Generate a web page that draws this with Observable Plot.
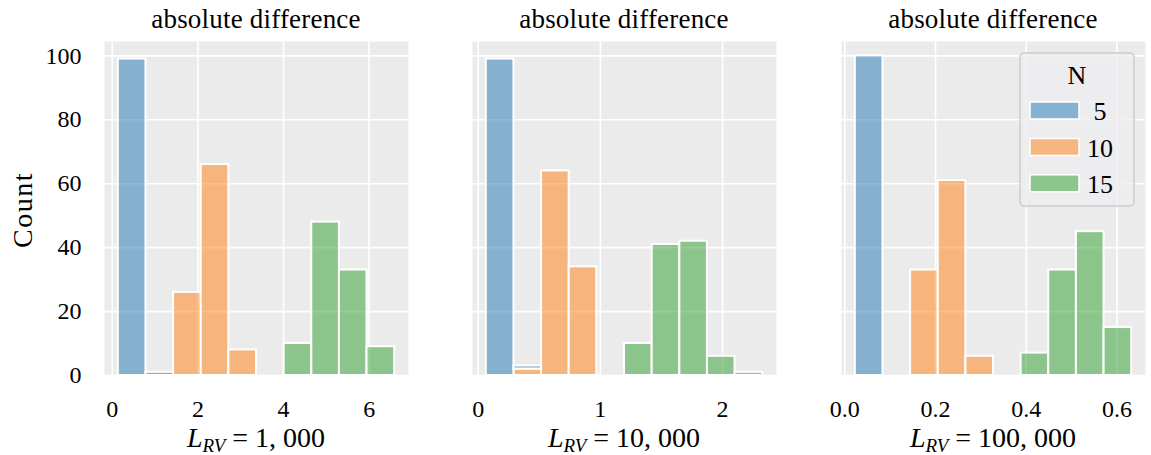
<!DOCTYPE html>
<html><head><meta charset="utf-8">
<script src="https://cdn.jsdelivr.net/npm/d3@7"></script>
<script src="https://cdn.jsdelivr.net/npm/@observablehq/plot@0.6"></script>
<style>
html,body{margin:0;padding:0;background:#fff;}
#wrap{position:relative;width:1151px;height:455px;overflow:hidden;background:#fff;}
#wrap svg{position:absolute;top:0;overflow:visible;}
</style></head><body><div id="wrap"></div>
<script>
// ---- data ----
const hues = ["5", "10", "15"];
const hueColors = ["#1f77b4", "#ff7f0e", "#2ca02c"];
const yTicks = [0, 20, 40, 60, 80, 100];

// panel 1 : L_RV = 1,000
const edges1 = [0.14, 0.786, 1.431, 2.077, 2.723, 3.369, 4.014, 4.66, 5.306, 5.951, 6.597];
const p1N5  = [99, 1, 0, 0, 0, 0, 0, 0, 0, 0];
const p1N10 = [0, 0, 26, 66, 8, 0, 0, 0, 0, 0];
const p1N15 = [0, 0, 0, 0, 0, 0, 10, 48, 33, 9];
const xTicks1 = [0, 2, 4, 6];

// panel 2 : L_RV = 10,000
const edges2 = [0.067, 0.293, 0.519, 0.745, 0.971, 1.198, 1.424, 1.650, 1.876, 2.102, 2.328];
const p2N5  = [99, 1, 0, 0, 0, 0, 0, 0, 0, 0];
const p2N10 = [0, 2, 64, 34, 0, 0, 0, 0, 0, 0];
const p2N15 = [0, 0, 0, 0, 0, 10, 41, 42, 6, 1];
const xTicks2 = [0, 1, 2];

// panel 3 : L_RV = 100,000
const edges3 = [0.0233, 0.0842, 0.1451, 0.2060, 0.2669, 0.3278, 0.3887, 0.4496, 0.5105, 0.5714, 0.6323];
const p3N5  = [100, 0, 0, 0, 0, 0, 0, 0, 0, 0];
const p3N10 = [0, 0, 33, 61, 6, 0, 0, 0, 0, 0];
const p3N15 = [0, 0, 0, 0, 0, 0, 7, 33, 45, 15];
const xTicks3 = [0, 0.2, 0.4, 0.6];

const panelTitle = "absolute difference";
const xLabelValues = ["1, 000", "10, 000", "100, 000"];
const yLabel = "Count";
const legendTitle = "N";

// ---- layout ----
const FONT = "'Liberation Serif', 'Times New Roman', serif";
const panels = [
  {edges: edges1, counts: [p1N5, p1N10, p1N15], ticks: xTicks1, fmt: d3.format("d"), left: 0, ml: 104, w: 428, showY: true},
  {edges: edges2, counts: [p2N5, p2N10, p2N15], ticks: xTicks2, fmt: d3.format("d"), left: 428, ml: 44, w: 368, showY: false},
  {edges: edges3, counts: [p3N5, p3N10, p3N15], ticks: xTicks3, fmt: d3.format(".1f"), left: 796, ml: 45, w: 355, showY: false}
];
const FW = 304, H = 455, MT = 41, MB = 80;

const wrap = document.getElementById("wrap");

panels.forEach((p, pi) => {
  const rows = [];
  // seaborn layers hue levels in reverse order (first level on top)
  for (let h = hues.length - 1; h >= 0; h--) {
    p.counts[h].forEach((c, i) => {
      if (c > 0) rows.push({N: hues[h], x1: p.edges[i], x2: p.edges[i + 1], count: c});
    });
  }
  const lo = p.edges[0], hi = p.edges[p.edges.length - 1], pad = (hi - lo) * 0.05;
  const chart = Plot.plot({
    width: p.w, height: H,
    marginLeft: p.ml, marginRight: p.w - p.ml - FW, marginTop: MT, marginBottom: MB,
    x: {domain: [lo - pad, hi + pad]},
    y: {domain: [0, 104.5], axis: null},
    color: {domain: hues, range: hueColors},
    style: {fontFamily: FONT, fontSize: "24px", color: "#000", background: "transparent", overflow: "visible"},
    marks: [
      Plot.frame({fill: "#EBEBEB", stroke: null}),
      Plot.gridY(yTicks, {stroke: "white", strokeOpacity: 1, strokeWidth: 1.6}),
      Plot.gridX(p.ticks, {stroke: "white", strokeOpacity: 1, strokeWidth: 1.6}),
      Plot.rectY(rows, {x1: "x1", x2: "x2", y: "count", fill: "N", fillOpacity: 0.5, stroke: "white", strokeWidth: 2}),
      Plot.axisX(p.ticks, {tickSize: 0, tickPadding: 24, tickFormat: p.fmt, label: null, fontSize: 24}),
      p.showY ? Plot.axisY(yTicks, {tickSize: 0, tickPadding: 23, label: null, fontSize: 24}) : null
    ]
  });
  chart.style.left = p.left + "px";
  wrap.appendChild(chart);
  const svg = d3.select(chart);
  const cx = p.ml + FW / 2;

  // panel title
  svg.append("text").attr("x", cx).attr("y", 28).attr("text-anchor", "middle")
    .attr("font-family", FONT).attr("font-size", 27).attr("letter-spacing", "0.2px")
    .attr("fill", "#000").text(panelTitle);

  // x label  L_RV = ...
  const xl = svg.append("text").attr("x", cx).attr("y", 447).attr("text-anchor", "middle")
    .attr("font-family", FONT).attr("font-size", 28).attr("fill", "#000");
  xl.append("tspan").attr("font-style", "italic").text("L");
  xl.append("tspan").attr("font-style", "italic").attr("font-size", 19).attr("dy", 5).text("RV");
  xl.append("tspan").attr("dy", -5).text(" = " + xLabelValues[pi]);

  if (p.showY) {
    svg.append("text").attr("transform", "translate(22,210) rotate(-90)")
      .attr("text-anchor", "middle").attr("dominant-baseline", "central")
      .attr("font-family", FONT).attr("font-size", 28).attr("letter-spacing", "1.5px")
      .attr("fill", "#000").text(yLabel);
  }

  if (pi === 2) {
    const ox = -p.left;
    const g = svg.append("g").attr("font-family", FONT);
    g.append("rect").attr("x", 1020 + ox).attr("y", 53).attr("width", 114).attr("height", 153)
      .attr("rx", 4).attr("fill", "#EEEEF1").attr("fill-opacity", 0.8)
      .attr("stroke", "#CCCCCC").attr("stroke-width", 1.5);
    g.append("text").attr("x", 1077 + ox).attr("y", 84).attr("text-anchor", "middle")
      .attr("font-size", 26).attr("fill", "#000").text(legendTitle);
    const centers = [110.5, 147, 183.3];
    hues.forEach((h, i) => {
      g.append("rect").attr("x", 1030 + ox).attr("y", centers[i] - 8.5).attr("width", 49).attr("height", 17)
        .attr("fill", hueColors[i]).attr("fill-opacity", 0.5)
        .attr("stroke", "white").attr("stroke-width", 1.5);
      g.append("text").attr("x", 1100 + ox).attr("y", centers[i] + 9.5)
        .attr("font-size", 26).attr("fill", "#000").text(h);
    });
  }
});
</script>
</body></html>
